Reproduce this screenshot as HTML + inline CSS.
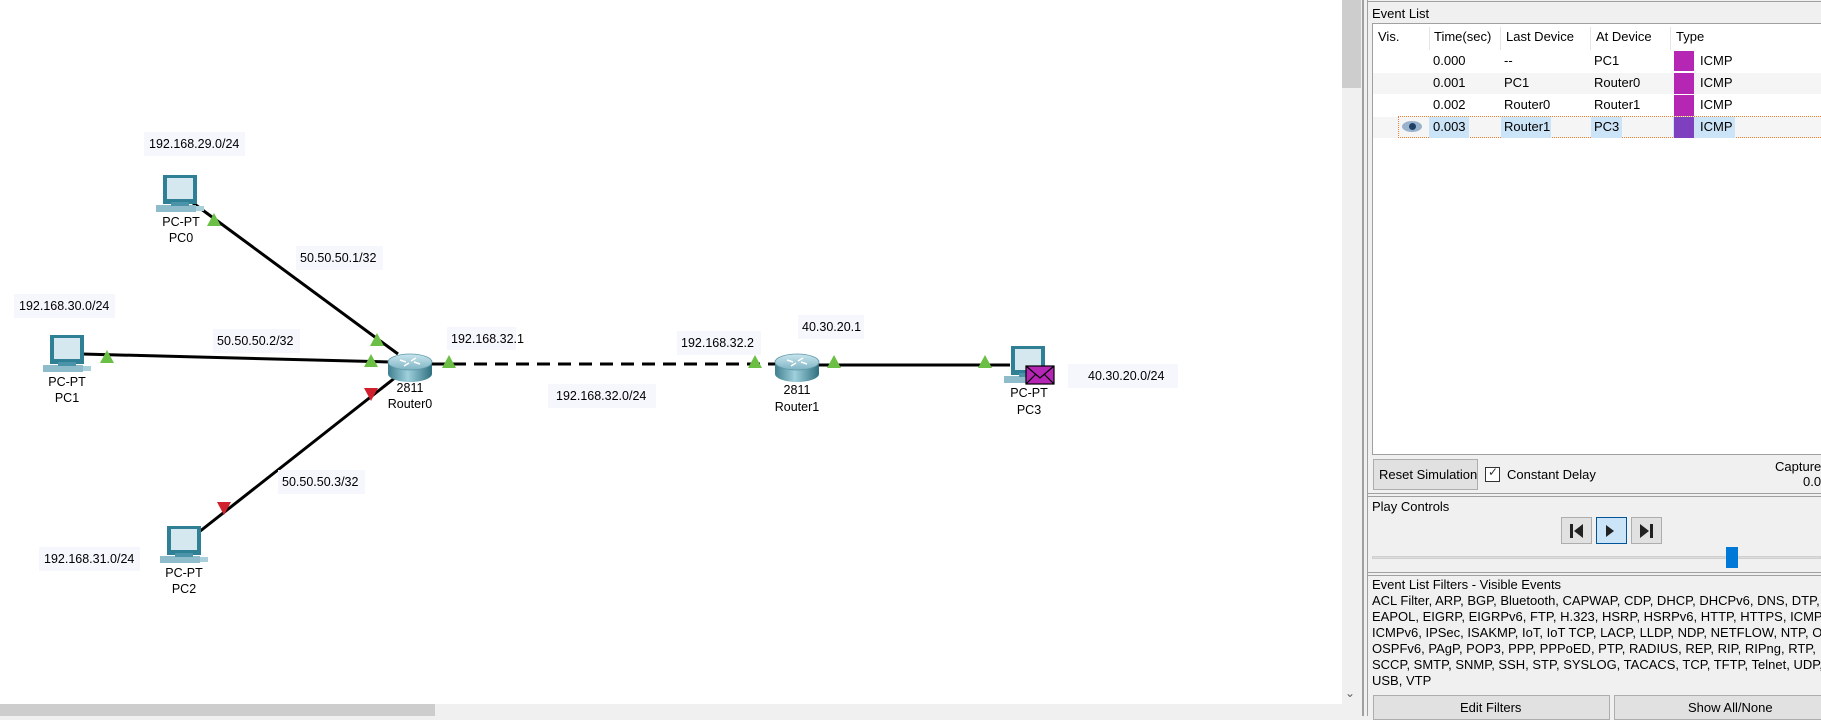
<!DOCTYPE html>
<html><head><meta charset="utf-8"><style>
*{margin:0;padding:0;box-sizing:border-box}
body{width:1821px;height:716px;overflow:hidden;background:#f0f0f0;position:relative;font-family:"Liberation Sans",Arial,sans-serif;color:#000}
.a{position:absolute;white-space:nowrap}
.p{font-size:13px}
.btn{position:absolute;background:#e1e1e1;border:1px solid #adadad}
</style></head><body>
<svg class="a" style="left:0;top:0" width="1342" height="704" viewBox="0 0 1342 704">
<defs>
<linearGradient id="rb" x1="0" x2="1" y1="0" y2="0"><stop offset="0" stop-color="#3f7f8f"/><stop offset=".45" stop-color="#9fd0dc"/><stop offset="1" stop-color="#2f6f80"/></linearGradient>
<linearGradient id="rt" x1="0" x2="0" y1="0" y2="1"><stop offset="0" stop-color="#c9e6ee"/><stop offset="1" stop-color="#7fb4c4"/></linearGradient>
<g id="router">
<path d="M-22 -4 L-22 8 A22 8 0 0 0 22 8 L22 -4 Z" fill="url(#rb)"/>
<ellipse cx="0" cy="-4" rx="22" ry="8" fill="url(#rt)" stroke="#5e98a8" stroke-width=".8"/>
<path d="M-10 -6 l6 2 M10 -2 l-6 -2 M-6 0 l5 -3 M6 -8 l-5 3" stroke="#fff" stroke-width="1.5"/>
</g>
<g id="pc">
<rect x="3" y="-2" width="34" height="29" fill="#2f7f95"/>
<rect x="7" y="1" width="26" height="21" fill="#d5e8ef"/>
<rect x="-4" y="28" width="40" height="7" fill="#8fbccb"/>
<rect x="11" y="25" width="18" height="4" fill="#4b93a8"/>
<rect x="36" y="29" width="8" height="5" fill="#a9cfda"/>
</g>
<polygon id="gt" points="0,-7 7,6 -7,6" fill="#6cbf45"/>
<polygon id="rt2" points="-7,-6 7,-6 0,7" fill="#d0202e"/>
</defs>
<rect width="1342" height="704" fill="#fff"/>
<g stroke="#000" stroke-width="3">
<line x1="193" y1="203" x2="398" y2="354"/>
<line x1="82" y1="354" x2="390" y2="362"/>
<line x1="199" y1="532" x2="396" y2="377"/>
<line x1="432" y1="364" x2="780" y2="364" stroke-dasharray="13,8"/>
<line x1="815" y1="365" x2="1010" y2="365"/>
</g>
<use href="#gt" x="214" y="220"/><use href="#gt" x="377" y="340"/>
<use href="#gt" x="107" y="357"/><use href="#gt" x="371" y="361"/>
<use href="#rt2" x="224" y="508"/><use href="#rt2" x="371" y="394"/>
<use href="#gt" x="449" y="362"/><use href="#gt" x="755" y="362"/>
<use href="#gt" x="834" y="362"/><use href="#gt" x="985" y="362"/>
<use href="#router" x="410" y="366"/>
<use href="#router" x="797" y="366"/>
<use href="#pc" x="160" y="177"/>
<use href="#pc" x="47" y="337"/>
<use href="#pc" x="164" y="528"/>
<use href="#pc" x="1008" y="348"/>
<rect x="1026" y="366" width="28" height="18" fill="#b526b5" stroke="#000" stroke-width="1.2"/>
<path d="M1026 366 L1040 378 L1054 366 M1026 384 L1036 374 M1054 384 L1044 374" stroke="#000" fill="none" stroke-width="1.2"/>
<g fill="#f6f7fd">
<rect x="144" y="132" width="101" height="24"/><rect x="14" y="294" width="101" height="24"/>
<rect x="39" y="547" width="101" height="24"/><rect x="296" y="246" width="87" height="24"/>
<rect x="213" y="329" width="87" height="24"/><rect x="278" y="470" width="87" height="24"/>
<rect x="447" y="327" width="69" height="23"/><rect x="677" y="331" width="84" height="24"/>
<rect x="798" y="315" width="66" height="24"/><rect x="1068" y="364" width="110" height="24"/>
<rect x="548" y="384" width="108" height="24"/>
</g>
<g font-family="Liberation Sans, Arial, sans-serif" font-size="12.5" fill="#000">
<text x="149" y="148">192.168.29.0/24</text>
<text x="19" y="310">192.168.30.0/24</text>
<text x="44" y="563">192.168.31.0/24</text>
<text x="300" y="262">50.50.50.1/32</text>
<text x="217" y="345">50.50.50.2/32</text>
<text x="282" y="486">50.50.50.3/32</text>
<text x="451" y="343">192.168.32.1</text>
<text x="681" y="347">192.168.32.2</text>
<text x="802" y="331">40.30.20.1</text>
<text x="1088" y="380">40.30.20.0/24</text>
<text x="556" y="400">192.168.32.0/24</text>
<g text-anchor="middle">
<text x="181" y="226">PC-PT</text><text x="181" y="242">PC0</text>
<text x="67" y="386">PC-PT</text><text x="67" y="402">PC1</text>
<text x="184" y="577">PC-PT</text><text x="184" y="593">PC2</text>
<text x="1029" y="397">PC-PT</text><text x="1029" y="414">PC3</text>
<text x="410" y="392">2811</text><text x="410" y="408">Router0</text>
<text x="797" y="394">2811</text><text x="797" y="411">Router1</text>
</g></g>
</svg>
<div class="a" style="left:1342px;top:0;width:20px;height:716px;background:#f0f0f0"></div>
<div class="a" style="left:1342px;top:0;width:19px;height:88px;background:#cdcdcd"></div>
<div class="a" style="left:1345px;top:686px;font-size:12px;color:#606060">&#8964;</div>
<div class="a" style="left:0;top:704px;width:1342px;height:12px;background:#f0f0f0"></div>
<div class="a" style="left:0;top:704px;width:435px;height:12px;background:#cdcdcd"></div>
<div class="a" style="left:1362px;top:0;width:2px;height:716px;background:#a0a0a0"></div>
<div class="a" style="left:1367px;top:0;width:1px;height:716px;background:#a0a0a0"></div>
<div class="a" style="left:1367px;top:1px;width:454px;height:1px;background:#a0a0a0"></div>
<div class="a p" style="left:1372px;top:6px">Event List</div>
<div class="a" style="left:1372px;top:23px;width:449px;height:432px;background:#fff;border:1px solid #a0a0a0;border-right:none"></div>
<div class="a" style="left:1373px;top:73px;width:448px;height:21px;background:#f5f5f5"></div>
<div class="a" style="left:1373px;top:117px;width:448px;height:21px;background:#f5f5f5"></div>
<div class="a" style="left:1398px;top:116px;width:423px;height:22px;border:1px dotted #f08030;border-right:none"></div>
<div class="a" style="left:1429px;top:117px;width:40px;height:21px;background:#cce4f7"></div>
<div class="a" style="left:1501px;top:117px;width:50px;height:21px;background:#cce4f7"></div>
<div class="a" style="left:1591px;top:117px;width:31px;height:21px;background:#cce4f7"></div>
<div class="a" style="left:1673px;top:117px;width:62px;height:21px;background:#cce4f7"></div>
<div class="a" style="left:1429px;top:27px;width:1px;height:23px;background:#e5e5e5"></div>
<div class="a" style="left:1500px;top:27px;width:1px;height:23px;background:#e5e5e5"></div>
<div class="a" style="left:1590px;top:27px;width:1px;height:23px;background:#e5e5e5"></div>
<div class="a" style="left:1670px;top:27px;width:1px;height:23px;background:#e5e5e5"></div>
<div class="a p" style="left:1378px;top:29px">Vis.</div>
<div class="a p" style="left:1434px;top:29px">Time(sec)</div>
<div class="a p" style="left:1506px;top:29px">Last Device</div>
<div class="a p" style="left:1596px;top:29px">At Device</div>
<div class="a p" style="left:1676px;top:29px">Type</div>
<div class="a p" style="left:1433px;top:53px">0.000</div><div class="a p" style="left:1504px;top:53px">--</div><div class="a p" style="left:1594px;top:53px">PC1</div>
<div class="a p" style="left:1433px;top:75px">0.001</div><div class="a p" style="left:1504px;top:75px">PC1</div><div class="a p" style="left:1594px;top:75px">Router0</div>
<div class="a p" style="left:1433px;top:97px">0.002</div><div class="a p" style="left:1504px;top:97px">Router0</div><div class="a p" style="left:1594px;top:97px">Router1</div>
<div class="a p" style="left:1433px;top:119px">0.003</div><div class="a p" style="left:1504px;top:119px">Router1</div><div class="a p" style="left:1594px;top:119px">PC3</div>
<div class="a" style="left:1674px;top:51px;width:20px;height:20px;background:#b526b5"></div>
<div class="a" style="left:1674px;top:73px;width:20px;height:21px;background:#b526b5"></div>
<div class="a" style="left:1674px;top:95px;width:20px;height:21px;background:#b526b5"></div>
<div class="a" style="left:1674px;top:117px;width:20px;height:21px;background:#7f40c0"></div>
<div class="a p" style="left:1700px;top:53px">ICMP</div><div class="a p" style="left:1700px;top:75px">ICMP</div><div class="a p" style="left:1700px;top:97px">ICMP</div><div class="a p" style="left:1700px;top:119px">ICMP</div>
<div class="a" style="left:1402px;top:121px;width:20px;height:11px;border-radius:50%;background:#9ab3cc"></div>
<div class="a" style="left:1409px;top:123px;width:7px;height:7px;border-radius:50%;background:#1f3f66"></div>
<div class="btn" style="left:1373px;top:459px;width:105px;height:31px"></div>
<div class="a p" style="left:1379px;top:467px">Reset Simulation</div>
<div class="a" style="left:1485px;top:467px;width:15px;height:15px;background:#fff;border:1px solid #333"></div>
<div class="a" style="left:1488px;top:465px;font-size:12px;color:#333">&#10003;</div>
<div class="a p" style="left:1507px;top:467px">Constant Delay</div>
<div class="a p" style="left:1775px;top:459px">Captured</div>
<div class="a p" style="left:1803px;top:474px">0.0</div>
<div class="a" style="left:1368px;top:493px;width:453px;height:1px;background:#a0a0a0"></div>
<div class="a" style="left:1368px;top:496px;width:453px;height:1px;background:#a0a0a0"></div>
<div class="a p" style="left:1372px;top:499px">Play Controls</div>
<div class="btn" style="left:1561px;top:517px;width:31px;height:27px"></div>
<div class="btn" style="left:1596px;top:517px;width:31px;height:27px;background:#cce4f7;border-color:#005499"></div>
<div class="btn" style="left:1631px;top:517px;width:31px;height:27px"></div>
<svg class="a" style="left:1561px;top:517px" width="101" height="27"><g fill="#222"><rect x="9" y="7" width="3" height="14"/><polygon points="22,7 22,21 13,14"/><polygon points="45,8 45,20 53,14"/><polygon points="79,7 79,21 88,14"/><rect x="89" y="7" width="3" height="14"/></g></svg>
<div class="a" style="left:1372px;top:556px;width:449px;height:3px;background:#dcdcdc;border:1px solid #d0d0d0"></div>
<div class="a" style="left:1726px;top:547px;width:12px;height:21px;background:#0078d7"></div>
<div class="a" style="left:1368px;top:572px;width:453px;height:1px;background:#a0a0a0"></div>
<div class="a" style="left:1368px;top:575px;width:453px;height:1px;background:#a0a0a0"></div>
<div class="a p" style="left:1372px;top:577px">Event List Filters - Visible Events</div>
<div class="a p" style="left:1372px;top:593px;line-height:16px;width:449px;overflow:hidden">ACL Filter, ARP, BGP, Bluetooth, CAPWAP, CDP, DHCP, DHCPv6, DNS, DTP,<br>EAPOL, EIGRP, EIGRPv6, FTP, H.323, HSRP, HSRPv6, HTTP, HTTPS, ICMP,<br>ICMPv6, IPSec, ISAKMP, IoT, IoT TCP, LACP, LLDP, NDP, NETFLOW, NTP, OSPF,<br>OSPFv6, PAgP, POP3, PPP, PPPoED, PTP, RADIUS, REP, RIP, RIPng, RTP,<br>SCCP, SMTP, SNMP, SSH, STP, SYSLOG, TACACS, TCP, TFTP, Telnet, UDP,<br>USB, VTP</div>
<div class="btn" style="left:1373px;top:695px;width:237px;height:25px"></div>
<div class="btn" style="left:1614px;top:695px;width:210px;height:25px"></div>
<div class="a p" style="left:1460px;top:700px">Edit Filters</div>
<div class="a p" style="left:1688px;top:700px">Show All/None</div>
</body></html>
